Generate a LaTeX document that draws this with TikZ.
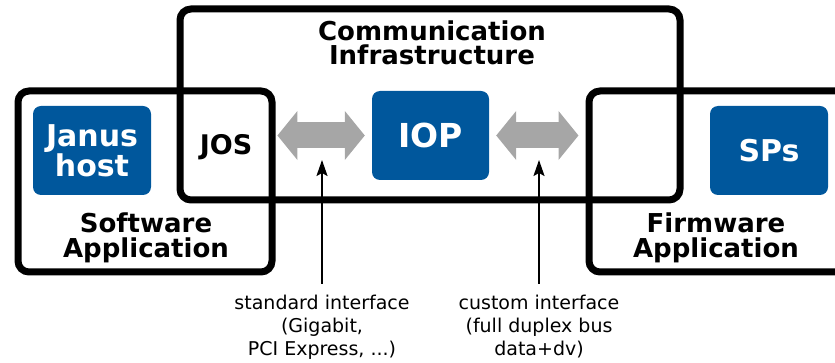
\documentclass[tikz,border=0pt]{standalone}
\usepackage{fontspec}
\setmainfont{DejaVu Sans}
\usetikzlibrary{arrows.meta,positioning}
\definecolor{janusblue}{RGB}{0,87,156}
\definecolor{linkgray}{RGB}{166,166,166}

\begin{document}
\begin{tikzpicture}[x=1pt,y=-1pt,
    areabox/.style={
      draw=black,
      line width=7pt,
      rounded corners=11pt,
      inner sep=0pt
    },
    unitbox/.style={
      fill=janusblue,
      rounded corners=8pt,
      text=white,
      align=center,
      minimum width=118pt,
      minimum height=89pt,
      inner sep=0pt,
      font=\bfseries\fontsize{30}{28}\selectfont
    },
    areatitle/.style={align=center,inner sep=0pt,font=\bfseries\fontsize{26}{24.5}\selectfont},
    ifnote/.style={align=center,inner sep=0pt,font=\fontsize{19}{23}\selectfont},
    datalink/.style={draw=linkgray,line width=26pt,{Triangle[length=20pt,width=48pt]}-{Triangle[length=20pt,width=48pt]}},
    pointer/.style={draw=black,line width=2pt,-{Stealth[length=16pt,width=11pt,inset=3pt]}}
  ]
  \useasboundingbox (0,0) rectangle (835,363);
  \clip (0,0) rectangle (835,363);
  % the three areas
  \node[areabox,minimum width=254pt,minimum height=181pt] (sw) at (145,181.5) {};
  \node[areabox,minimum width=500pt,minimum height=191pt] (comm) at (430,104.5) {};
  \node[areabox,minimum width=300pt,minimum height=181pt] (fw) at (739,181.5) {};
  \node[areatitle] (swlbl) at (146,238) {Software\\Application};
  \node[areatitle] (commlbl) at (432,43) {Communication\\Infrastructure};
  \node[areatitle] (fwlbl) at (716,238) {Firmware\\Application};
  % blocks
  \node[unitbox] (janus) at (92,150.5) {Janus\\host};
  \node[unitbox,minimum width=117pt,font=\bfseries\fontsize{33}{33}\selectfont] (iop) at (430.5,135.5) {IOP};
  \node[unitbox] (sps) at (769,150.5) {SPs};
  \node[areatitle,anchor=base,font=\bfseries\fontsize{27}{27}\selectfont] (jos) at (226,155) {JOS};
  \draw[datalink,shorten <=25pt,shorten >=7pt] (jos.east |- iop.west) -- (iop.west);
  \draw[datalink,shorten <=7pt,shorten >=7pt] (iop.east) -- (fw.west |- iop.east);
  % interfaces
  \node[ifnote,anchor=north] (stdif) at (322,294.6) {standard interface\\(Gigabit,\\PCI Express, ...)};
  \node[ifnote,anchor=north] (custif) at (539,294.6) {custom interface\\(full duplex bus\\data+dv)};
  \coordinate (stdtip) at (322,160);
  \coordinate (custtip) at (539,160);
  \draw[pointer,shorten <=11pt] (stdif.north) -- (stdtip);
  \draw[pointer,shorten <=11pt] (custif.north) -- (custtip);
\end{tikzpicture}
\end{document}
